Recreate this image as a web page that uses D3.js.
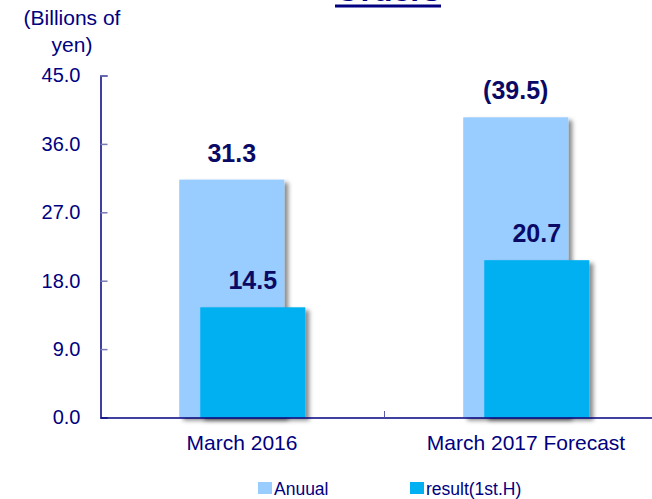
<!DOCTYPE html>
<html>
<head>
<meta charset="utf-8">
<script src="https://cdn.jsdelivr.net/npm/d3@7"></script>
<style>
  html, body { margin: 0; padding: 0; background: #fff; }
  svg { display: block; font-family: Arial, "Liberation Sans", Helvetica, sans-serif; }
</style>
</head>
<body>
<svg id="chart" width="652" height="499"></svg>
<script>
const categories = ["March 2016", "March 2017 Forecast"];
const seriesNames = ["Anuual", "result(1st.H)"];
const annualValues = [31.3, 39.5];
const resultValues = [14.5, 20.7];
const annualLabels = ["31.3", "(39.5)"];
const resultLabels = ["14.5", "20.7"];
const yTicks = [0, 9, 18, 27, 36, 45];
const title = "Orders";
const unitLines = ["(Billions of", "yen)"];

const svg = d3.select("#chart");
const navy = "#000080";
const labelNavy = "#0a0a66";
const colors = ["#99ccff", "#00b0f0"];

const defs = svg.append("defs");
const f = defs.append("filter").attr("id", "shadow")
  .attr("x", "-10%").attr("y", "-10%").attr("width", "130%").attr("height", "130%");
f.append("feDropShadow").attr("dx", 4).attr("dy", 3).attr("stdDeviation", 2)
  .attr("flood-color", "#000").attr("flood-opacity", 0.45);

const y = d3.scaleLinear().domain([0, 45]).range([417.5, 75.5]);
const x = d3.scaleBand().domain(categories).range([100, 668]).paddingInner(0).paddingOuter(0);
const bw = x.bandwidth();
const xs = d3.scalePoint().domain(seriesNames).range([bw * 0.279, bw * 0.353]);
const barW = bw * 0.37;

// Title (cut off at top)
svg.append("text").attr("x", 388).attr("y", 1).attr("text-anchor", "middle")
  .attr("font-size", 32).attr("font-weight", "bold").attr("fill", navy).text(title);
svg.append("rect").attr("x", 335).attr("y", 4.5).attr("width", 106).attr("height", 3).attr("fill", navy);

// Unit label
svg.append("g").selectAll("text").data(unitLines).join("text")
  .attr("x", 72).attr("y", (d, i) => 25 + i * 26.5)
  .attr("text-anchor", "middle").attr("font-size", 21).attr("fill", navy).text(d => d);

// Y axis
const yAxis = svg.append("g").attr("transform", "translate(100.5,0)")
  .call(d3.axisLeft(y).tickValues(yTicks).tickFormat(d3.format(".1f")).tickSize(-7).tickPadding(20));
yAxis.select(".domain").attr("stroke", navy).attr("stroke-width", 1.5);
yAxis.selectAll(".tick line").attr("stroke", "#7a7ab5").attr("stroke-width", 1.5);
yAxis.selectAll(".tick text").attr("font-size", 20).attr("fill", navy).attr("font-family", "Arial, 'Liberation Sans', sans-serif");

// Bars
const data = categories.map((c, i) => ({ c, vals: [annualValues[i], resultValues[i]], labels: [annualLabels[i], resultLabels[i]] }));
const barsG = svg.append("g");
seriesNames.forEach((s, si) => {
  barsG.selectAll(".bar" + si).data(data).join("rect")
    .attr("class", "bar" + si)
    .attr("x", d => x(d.c) + xs(s))
    .attr("y", d => y(d.vals[si]))
    .attr("width", barW)
    .attr("height", d => y(0) - y(d.vals[si]))
    .attr("fill", colors[si])
    .attr("filter", "url(#shadow)");
});

// X axis
const xAxis = svg.append("g").attr("transform", "translate(0,417.5)")
  .call(d3.axisBottom(x).tickSize(0).tickPadding(17.5));
xAxis.select(".domain").attr("stroke", navy).attr("stroke-width", 1.5);
xAxis.selectAll(".tick text").attr("font-size", 21).attr("fill", navy).attr("font-family", "Arial, 'Liberation Sans', sans-serif");
// category boundary ticks (pointing up)
svg.append("g").selectAll("line").data(categories.slice(1)).join("line")
  .attr("x1", d => x(d) + 0.5).attr("x2", d => x(d) + 0.5)
  .attr("y1", 417.5).attr("y2", 411).attr("stroke", "#5a5aa5").attr("stroke-width", 1);

// Data labels
seriesNames.forEach((s, si) => {
  svg.append("g").selectAll("text").data(data).join("text")
    .attr("x", d => x(d.c) + xs(s) + barW / 2)
    .attr("y", d => y(d.vals[si]) - 18)
    .attr("text-anchor", "middle").attr("font-size", 25).attr("font-weight", "bold")
    .attr("fill", labelNavy).text(d => d.labels[si]);
});

// Legend
const legendX = [258, 410];
const lg = svg.append("g").selectAll("g").data(seriesNames).join("g")
  .attr("transform", (d, i) => `translate(${legendX[i]},482)`);
lg.append("rect").attr("width", 14).attr("height", 12).attr("fill", (d, i) => colors[i]);
lg.append("text").attr("x", 16).attr("y", 12.5).attr("font-size", 17.5).attr("fill", navy).text(d => d);
</script>
</body>
</html>
